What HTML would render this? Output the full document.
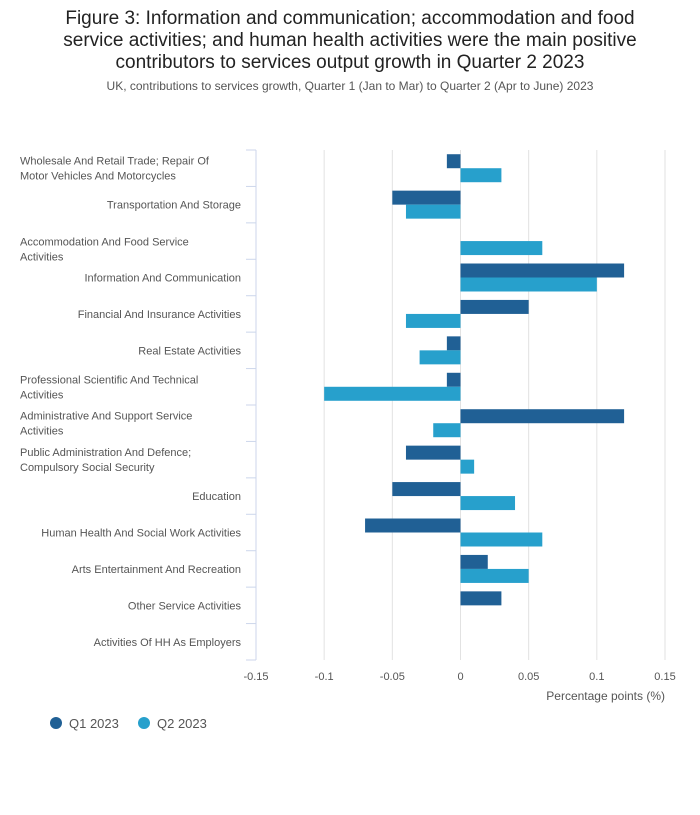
<!DOCTYPE html>
<html><head><meta charset="utf-8"><style>
body{margin:0;background:#fff;font-family:"Liberation Sans",sans-serif;}
</style></head><body>
<svg width="700" height="810" xmlns="http://www.w3.org/2000/svg" font-family="Liberation Sans, sans-serif">
<text x="350" y="24" text-anchor="middle" font-size="19" fill="#222">Figure 3: Information and communication; accommodation and food</text>
<text x="350" y="46" text-anchor="middle" font-size="19" fill="#222">service activities; and human health activities were the main positive</text>
<text x="350" y="68" text-anchor="middle" font-size="19" fill="#222">contributors to services output growth in Quarter 2 2023</text>
<text x="350" y="90" text-anchor="middle" font-size="12" fill="#555">UK, contributions to services growth, Quarter 1 (Jan to Mar) to Quarter 2 (Apr to June) 2023</text>
<g id="grid"></g><g id="bars"></g><g id="axes"></g>
<text x="665" y="700" text-anchor="end" font-size="12" fill="#555">Percentage points (%)</text>
<g>
<circle cx="56" cy="723" r="6" fill="#206095"/>
<text x="69" y="728" font-size="13" fill="#555">Q1 2023</text>
<circle cx="144" cy="723" r="6" fill="#27a0cc"/>
<text x="157" y="728" font-size="13" fill="#555">Q2 2023</text>
</g>
</svg>
<script>
const categories=[["Wholesale And Retail Trade; Repair Of","Motor Vehicles And Motorcycles"],["Transportation And Storage"],["Accommodation And Food Service","Activities"],["Information And Communication"],["Financial And Insurance Activities"],["Real Estate Activities"],["Professional Scientific And Technical","Activities"],["Administrative And Support Service","Activities"],["Public Administration And Defence;","Compulsory Social Security"],["Education"],["Human Health And Social Work Activities"],["Arts Entertainment And Recreation"],["Other Service Activities"],["Activities Of HH As Employers"]];
const q1=[-0.01,-0.05,0,0.12,0.05,-0.01,-0.01,0.12,-0.04,-0.05,-0.07,0.02,0.03,0];
const q2=[0.03,-0.04,0.06,0.1,-0.04,-0.03,-0.1,-0.02,0.01,0.04,0.06,0.05,0,0];
const ticks=[-0.15,-0.1,-0.05,0,0.05,0.1,0.15];
const tickLabels=["-0.15","-0.1","-0.05","0","0.05","0.1","0.15"];
const NS="http://www.w3.org/2000/svg";
const x0=256,x1=665,y0=150,y1=660;
const xs=v=>x0+(v+0.15)/0.3*(x1-x0);
const band=(y1-y0)/categories.length;
function mk(t,a,p){const e=document.createElementNS(NS,t);for(const k in a)e.setAttribute(k,a[k]);p.appendChild(e);return e;}
const g=document.getElementById('grid'),b=document.getElementById('bars'),ax=document.getElementById('axes');
ticks.forEach((t,i)=>{
 if(i>0){const l=mk('line',{x1:xs(t),x2:xs(t),y1:y0,y2:y1,stroke:'#e2e2e2'},g);
 
 }
 const tx=mk('text',{x:xs(t),y:y1+20,'text-anchor':'middle','font-size':11,fill:'#555'},ax);
 tx.textContent=tickLabels[i];
 
 
});
const al=mk('line',{x1:x0,x2:x0,y1:y0,y2:y1,stroke:'#ccd6eb'},ax);


for(let i=0;i<=categories.length;i++){const y=y0+i*band;const tk=mk('line',{x1:x0-10,x2:x0,y1:y,y2:y,stroke:'#ccd6eb'},ax);
 
 }
categories.forEach((c,i)=>{
 const cy=y0+i*band+band/2;
 const bh=14;
 [[q1,'#206095',cy-bh],[q2,'#27a0cc',cy]].forEach(([arr,col,y],s)=>{
  const v=arr[i];if(v===0)return;
  const r=mk('rect',{x:Math.min(xs(0),xs(v)),y:y,width:Math.abs(xs(v)-xs(0)),height:bh,fill:col},b);
  
  
 });
 const multi=c.length>1;
 const off=(i===2)?8:0;
 c.forEach((ln,j)=>{
  const t=mk('text',{x:multi?20:241,y:cy+4+off+(multi?(j-0.5)*15:0),'text-anchor':multi?'start':'end','font-size':11,fill:'#555'},ax);
  t.textContent=ln;
  
  
 });
});
</script>
</body></html>
